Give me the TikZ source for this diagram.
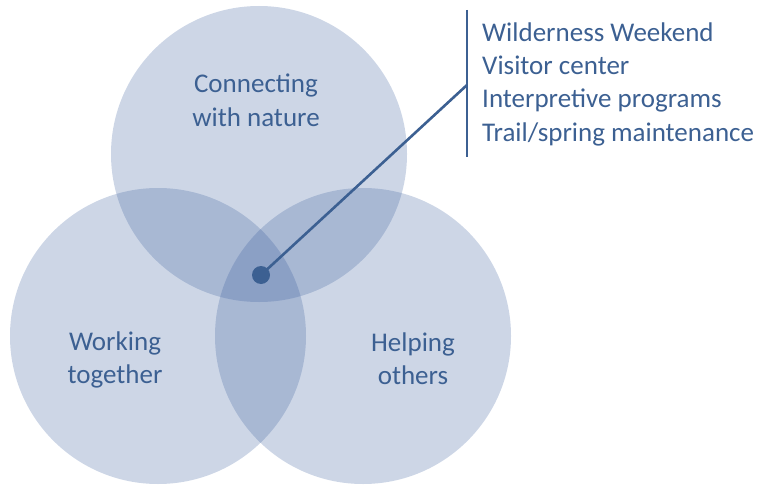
\documentclass[tikz,border=0pt]{standalone}
\usepackage{fontspec}
\setmainfont{Carlito}
\definecolor{setblue}{RGB}{47,85,151}
\definecolor{inkblue}{RGB}{60,96,146}
\begin{document}
\begin{tikzpicture}[x=1pt,y=-1pt,
  setcircle/.style={circle,fill=setblue,fill opacity=0.24,draw=none,minimum size=296pt,inner sep=0pt},
  setlabel/.style={text=inkblue,font=\fontsize{27}{33}\selectfont,anchor=base,inner sep=0pt},
  listtext/.style={text=inkblue,font=\fontsize{27}{33}\selectfont,anchor=base west,inner sep=0pt},
  leader/.style={draw=inkblue,line width=2.6pt}]
\useasboundingbox (0,0) rectangle (762,484);
% three overlapping sets
\node[setcircle] (nature) at (259,154) {};
\node[setcircle] (together) at (158,336) {};
\node[setcircle] (others) at (363,336) {};
% set labels, one node per line, placed on their baselines
\node[setlabel] (natureA) at (256,93) {Connecting};
\node[setlabel] (natureB) at (256,126) {with nature};
\node[setlabel] (togetherA) at (115,350) {Working};
\node[setlabel] (togetherB) at (115,383) {together};
\node[setlabel] (othersA) at (413,351) {Helping};
\node[setlabel] (othersB) at (413,384) {others};
% callout from the common region
\node[circle,fill=inkblue,minimum size=18pt,inner sep=0pt] (dot) at (261,275) {};
\coordinate (barTop) at (467,10);
\coordinate (barBot) at (467,157);
\coordinate (barJoin) at (467,85);
\draw[leader] (barTop) -- (barBot);
\draw[leader] (dot.center) -- (barJoin);
\node[listtext] (item1) at (482,42) {Wilderness Weekend};
\node[listtext] (item2) at (482,75) {Visitor center};
\node[listtext] (item3) at (482,108) {Interpretive programs};
\node[listtext] (item4) at (482,141) {Trail/spring maintenance};
\end{tikzpicture}
\end{document}
